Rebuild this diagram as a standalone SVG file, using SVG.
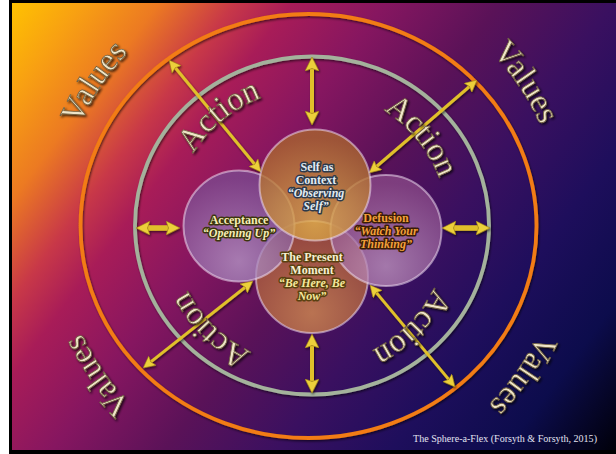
<svg xmlns="http://www.w3.org/2000/svg" width="616" height="454" viewBox="0 0 616 454">
<defs>
  <linearGradient id="bg" gradientUnits="userSpaceOnUse" x1="10" y1="0" x2="616" y2="454">
    <stop offset="0" stop-color="#ffc400"/>
    <stop offset="0.08" stop-color="#f8a012"/>
    <stop offset="0.16" stop-color="#ec7a22"/>
    <stop offset="0.24" stop-color="#c83848"/>
    <stop offset="0.30" stop-color="#a81c58"/>
    <stop offset="0.40" stop-color="#861660"/>
    <stop offset="0.52" stop-color="#5a1258"/>
    <stop offset="0.64" stop-color="#3a1060"/>
    <stop offset="0.76" stop-color="#1e0e5c"/>
    <stop offset="0.88" stop-color="#0c0c4c"/>
    <stop offset="1" stop-color="#000008"/>
  </linearGradient>
  <radialGradient id="gTop" cx="0.5" cy="0.82" r="0.75">
    <stop offset="0" stop-color="#e4b24e"/>
    <stop offset="1" stop-color="#a8642e"/>
  </radialGradient>
  <radialGradient id="gBot" cx="0.5" cy="0.82" r="0.75">
    <stop offset="0" stop-color="#cc8450"/>
    <stop offset="1" stop-color="#9a4c3a"/>
  </radialGradient>
  <radialGradient id="gLeft" cx="0.5" cy="0.82" r="0.75">
    <stop offset="0" stop-color="#b89ccc"/>
    <stop offset="1" stop-color="#7a4c92"/>
  </radialGradient>
  <radialGradient id="gRight" cx="0.5" cy="0.82" r="0.75">
    <stop offset="0" stop-color="#c49ac4"/>
    <stop offset="1" stop-color="#8c4c8a"/>
  </radialGradient>
  <path id="pV" d="M562,227 A252,252 0 1 1 58,227 A252,252 0 1 1 562,227"/>
  <path id="pA" d="M448,227 A138,138 0 1 1 172,227 A138,138 0 1 1 448,227"/>
  <marker id="ah" viewBox="0 0 14 14" refX="2.5" refY="7" markerWidth="14" markerHeight="14" markerUnits="userSpaceOnUse" orient="auto-start-reverse">
    <path d="M0,0 L14,7 L0,14 L2.5,7 Z" fill="#ecd03a" stroke="#9a7e12" stroke-width="0.6"/>
  </marker>
  <marker id="ahs" viewBox="0 0 14 14" refX="2.5" refY="7" markerWidth="12" markerHeight="12" markerUnits="userSpaceOnUse" orient="auto-start-reverse">
    <path d="M0,0 L14,7 L0,14 L2.5,7 Z" fill="#ecd03a" stroke="#9a7e12" stroke-width="0.6"/>
  </marker>
  <filter id="ts" x="-20%" y="-20%" width="140%" height="140%">
    <feDropShadow dx="1.5" dy="1.5" stdDeviation="1" flood-color="#000" flood-opacity="0.75"/>
  </filter>
  <filter id="sh" x="-10%" y="-10%" width="120%" height="120%">
    <feDropShadow dx="1" dy="1.5" stdDeviation="1" flood-color="#000" flood-opacity="0.6"/>
  </filter>
</defs>
<style>
  .ring { fill: none; stroke-width: 3.8; filter: url(#sh); }
  .rtext { font-family: "Liberation Serif", "Times New Roman", serif; font-size: 33px; fill: #efe5c8; stroke: #6e5e3e; stroke-width: 0.8; filter: url(#ts); }
  .shaft { fill: none; stroke: #e0c02a; }
  .d { stroke-width: 3; marker-start: url(#ahs); marker-end: url(#ahs); }
  .v { stroke-width: 4; marker-start: url(#ah); marker-end: url(#ah); }
  .h { stroke-width: 5.5; marker-start: url(#ah); marker-end: url(#ah); }
  .sphere { stroke: #eedcf0; stroke-opacity: 0.55; stroke-width: 2; }
  .lbl { font-family: "Liberation Serif", "Times New Roman", serif; font-size: 12px; font-weight: bold; text-anchor: middle; paint-order: stroke; stroke-width: 3; stroke-linejoin: round; }
  .it { font-style: italic; }
  .cap { font-family: "Liberation Serif", "Times New Roman", serif; font-size: 11px; fill: #e2e2f0; }
</style>

<rect width="616" height="454" fill="#ffffff"/>
<rect x="9" y="0" width="607" height="454" fill="#000000"/>
<rect x="12" y="3" width="604" height="447" fill="url(#bg)"/>

<g id="rings">
  <ellipse class="ring" cx="308.5" cy="226" rx="228" ry="212" stroke="#f27b12"/>
  <ellipse class="ring" cx="312" cy="225.5" rx="177" ry="169" stroke="#a4b29c"/>
</g>

<g id="connectors" filter="url(#sh)">
  <line class="shaft d" x1="175.3" y1="67.7" x2="254.7" y2="164.3"/>
  <line class="shaft d" x1="469.5" y1="86.5" x2="376.5" y2="166.5"/>
  <line class="shaft d" x1="150.8" y1="361.9" x2="245.2" y2="287.2"/>
  <line class="shaft d" x1="448.7" y1="379.4" x2="376.3" y2="292.6"/>
  <line class="shaft v" x1="312" y1="68.5" x2="312" y2="113.5"/>
  <line class="shaft v" x1="312" y1="345.5" x2="312" y2="381.5"/>
  <line class="shaft h" x1="147.5" y1="228" x2="168.5" y2="228"/>
  <line class="shaft h" x1="453.5" y1="228" x2="478.5" y2="228"/>
</g>

<g id="values-labels">
  <text class="rtext"><textPath href="#pV" startOffset="59.4%" text-anchor="middle">Values</textPath></text>
  <text class="rtext"><textPath href="#pV" startOffset="90.6%" text-anchor="middle">Values</textPath></text>
  <text class="rtext"><textPath href="#pV" startOffset="9.7%" text-anchor="middle">Values</textPath></text>
  <text class="rtext"><textPath href="#pV" startOffset="40.3%" text-anchor="middle">Values</textPath></text>
</g>
<g id="action-labels">
  <text class="rtext"><textPath href="#pA" startOffset="64.1%" text-anchor="middle">Action</textPath></text>
  <text class="rtext"><textPath href="#pA" startOffset="89.1%" text-anchor="middle">Action</textPath></text>
  <text class="rtext"><textPath href="#pA" startOffset="12.4%" text-anchor="middle">Action</textPath></text>
  <text class="rtext"><textPath href="#pA" startOffset="37.2%" text-anchor="middle">Action</textPath></text>
</g>

<g id="present-moment">
  <circle class="sphere" cx="312" cy="277" r="56" fill="url(#gBot)" fill-opacity="0.85"/>
</g>
<g id="acceptance">
  <circle class="sphere" cx="239" cy="226" r="55.5" fill="url(#gLeft)" fill-opacity="0.75"/>
  <text class="lbl" x="239" y="224" fill="#f5edb5" stroke="#3d3510">Acceptance</text>
  <text class="lbl it" x="239" y="237" fill="#f5edb5" stroke="#3d3510">“Opening Up”</text>
</g>
<g id="defusion">
  <circle class="sphere" cx="386" cy="230.5" r="55.5" fill="url(#gRight)" fill-opacity="0.75"/>
  <text class="lbl" x="386" y="222" fill="#f2a03a" stroke="#3a1c08">Defusion</text>
  <text class="lbl it" x="386" y="235" fill="#f2a03a" stroke="#3a1c08">“Watch Your</text>
  <text class="lbl it" x="386" y="248" fill="#f2a03a" stroke="#3a1c08">Thinking”</text>
</g>
<g id="self-as-context">
  <circle class="sphere" cx="315" cy="185" r="55.5" fill="url(#gTop)" fill-opacity="0.8"/>
  <text class="lbl" x="317" y="171" fill="#e2eaf2" stroke="#2e3a4a">Self as</text>
  <text class="lbl" x="316" y="184" fill="#e2eaf2" stroke="#2e3a4a">Context</text>
  <text class="lbl it" x="316" y="197" fill="#e2eaf2" stroke="#2e3a4a">“Observing</text>
  <text class="lbl it" x="316" y="210" fill="#e2eaf2" stroke="#2e3a4a">Self”</text>
</g>
<g id="present-moment-text">
  <text class="lbl" x="312" y="261" fill="#f6f0d2" stroke="#5a4010">The Present</text>
  <text class="lbl" x="312" y="274" fill="#f6f0d2" stroke="#5a4010">Moment</text>
  <text class="lbl it" x="312" y="287" fill="#f4e89c" stroke="#5a4010">“Be Here, Be</text>
  <text class="lbl it" x="312" y="300" fill="#f4e89c" stroke="#5a4010">Now”</text>
</g>

<text class="cap" x="413" y="442" textLength="184" lengthAdjust="spacingAndGlyphs">The Sphere-a-Flex (Forsyth &amp; Forsyth, 2015)</text>
</svg>
